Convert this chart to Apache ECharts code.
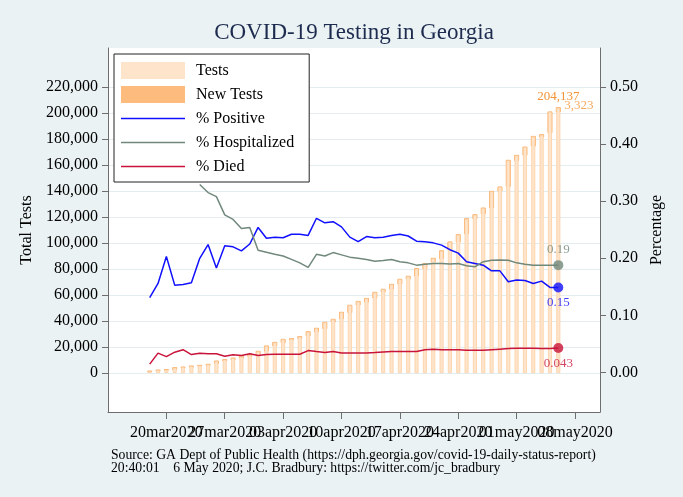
<!DOCTYPE html>
<html>
<head>
<meta charset="utf-8">
<title>COVID-19 Testing in Georgia</title>
<script src="https://cdn.jsdelivr.net/npm/echarts@6/dist/echarts.min.js"></script>
<style>
  html, body { margin: 0; padding: 0; background: #eaf2f3; }
  #chart { width: 683px; height: 497px; }
</style>
</head>
<body>
<div id="chart"></div>
<script>
// daily values, 18 Mar 2020 .. 6 May 2020
const dates = [
  '2020-03-18', '2020-03-19', '2020-03-20', '2020-03-21', '2020-03-22', '2020-03-23', '2020-03-24', '2020-03-25', '2020-03-26', '2020-03-27',
  '2020-03-28', '2020-03-29', '2020-03-30', '2020-03-31', '2020-04-01', '2020-04-02', '2020-04-03', '2020-04-04', '2020-04-05', '2020-04-06',
  '2020-04-07', '2020-04-08', '2020-04-09', '2020-04-10', '2020-04-11', '2020-04-12', '2020-04-13', '2020-04-14', '2020-04-15', '2020-04-16',
  '2020-04-17', '2020-04-18', '2020-04-19', '2020-04-20', '2020-04-21', '2020-04-22', '2020-04-23', '2020-04-24', '2020-04-25', '2020-04-26',
  '2020-04-27', '2020-04-28', '2020-04-29', '2020-04-30', '2020-05-01', '2020-05-02', '2020-05-03', '2020-05-04', '2020-05-05', '2020-05-06'
];
const totalTests = [
  1540, 2300, 2560, 4100, 4600, 5400, 5900, 6700, 9200, 10300,
  11500, 12800, 13850, 16700, 20800, 23600, 25900, 26400, 27950, 31800,
  34400, 39000, 41300, 46700, 52100, 55100, 57400, 62100, 64400, 68200,
  72100, 74400, 80300, 84100, 88200, 94000, 100800, 106400, 118700, 121800,
  126900, 139700, 143100, 163600, 167400, 173800, 182000, 183300, 200800, 204137
];
const newTests = [
  600, 800, 300, 1500, 500, 800, 500, 800, 2000, 1000,
  1200, 1300, 1000, 2600, 3900, 2600, 2500, 1000, 1300, 3300,
  2800, 4900, 2000, 4900, 5600, 2800, 2800, 4400, 2000, 3600,
  3600, 2000, 5600, 3900, 2600, 5900, 6000, 5600, 11500, 3100,
  4400, 12600, 3100, 20000, 3900, 6200, 7400, 1800, 15900, 3323
];
const pctPositive = [
  0.131, 0.156, 0.203, 0.153, 0.154, 0.157, 0.200, 0.224, 0.183, 0.222,
  0.220, 0.213, 0.225, 0.254, 0.235, 0.237, 0.236, 0.242, 0.242, 0.240,
  0.270, 0.262, 0.264, 0.255, 0.237, 0.229, 0.238, 0.236, 0.237, 0.240,
  0.242, 0.239, 0.230, 0.229, 0.227, 0.223, 0.215, 0.209, 0.194, 0.191,
  0.188, 0.178, 0.178, 0.159, 0.162, 0.161, 0.156, 0.160, 0.149, 0.149
];
const pctHospitalized = [
  null, null, null, null, null, null, 0.329, 0.315, 0.308, 0.276,
  0.268, 0.252, 0.254, 0.214, 0.2105, 0.207, 0.204, 0.198, 0.192, 0.184,
  0.207, 0.204, 0.210, 0.206, 0.202, 0.200, 0.198, 0.195, 0.196, 0.198,
  0.194, 0.192, 0.188, 0.1895, 0.191, 0.191, 0.190, 0.191, 0.187, 0.185,
  0.194, 0.1965, 0.197, 0.1965, 0.192, 0.1895, 0.188, 0.188, 0.188, 0.188
];
const pctDied = [
  0.0147, 0.034, 0.028, 0.0357, 0.040, 0.0315, 0.034, 0.033, 0.033, 0.0287,
  0.031, 0.030, 0.033, 0.030, 0.0315, 0.032, 0.032, 0.032, 0.032, 0.0385,
  0.0367, 0.035, 0.0367, 0.0344, 0.0344, 0.0344, 0.0344, 0.035, 0.036, 0.0367,
  0.0367, 0.0367, 0.0367, 0.040, 0.0408, 0.040, 0.040, 0.040, 0.039, 0.039,
  0.039, 0.040, 0.041, 0.042, 0.0425, 0.0425, 0.0425, 0.042, 0.042, 0.043
];

const xTickDates = ['2020-03-20', '2020-03-27', '2020-04-03', '2020-04-10', '2020-04-17', '2020-04-24', '2020-05-01', '2020-05-08'];
const xTickLabels = ['20mar2020', '27mar2020', '03apr2020', '10apr2020', '17apr2020', '24apr2020', '01may2020', '08may2020'];
const leftTicks = [0, 20000, 40000, 60000, 80000, 100000, 120000, 140000, 160000, 180000, 200000, 220000];
const rightTicks = [0, 0.1, 0.2, 0.3, 0.4, 0.5];

const FONT = '"Liberation Serif", "Times New Roman", serif';
const AXIS = '#6e6e6e';
const ORANGE_TXT = '#f39335';

// x axis runs in days after 20 Mar 2020
const dayOf = d => (Date.parse(d) - Date.parse('2020-03-20')) / 86400000;
const xs = dates.map(dayOf);
const xTicks = xTickDates.map(dayOf);
const last = dates.length - 1;

const pair = arr => arr.map((v, i) => [xs[i], v]);
const short = v => String(Number(v.toPrecision(2)));

const testsData = pair(totalTests);
testsData[last] = {
  value: testsData[last],
  label: {
    show: true, position: 'top', distance: 5,
    formatter: p => p.value[1].toLocaleString('en-US'),
    color: ORANGE_TXT, fontFamily: FONT, fontSize: 13
  }
};
// [day, total, new] : new-test segment drawn from total-new up to total
const newData = totalTests.map((t, i) => [xs[i], t, newTests[i]]);

// thin horizontal line legend icon (bbox kept at the full item box)
const LINE_ICON = 'path://M0,0L64,0L64,0.01L0,0.01Z M0,7.75L64,7.75L64,9.25L0,9.25Z M0,16.99L64,16.99L64,17L0,17Z';

// the date labels overlap like in the original, so they are split over two
// stacked bottom axes (alternate ticks) to keep echarts from dropping any
function dateAxis(ticks, showLine) {
  return {
    type: 'value', position: 'bottom', min: -7, max: 52,
    axisLine: { show: showLine, onZero: false, lineStyle: { color: AXIS } },
    axisTick: { show: true, length: 7, customValues: ticks, lineStyle: { color: AXIS } },
    axisLabel: {
      customValues: ticks, margin: 13, showMinLabel: true, showMaxLabel: true,
      formatter: v => xTickLabels[xTicks.indexOf(v)] || '',
      fontFamily: FONT, fontSize: 16, color: '#000'
    },
    splitLine: { show: false }
  };
}

function endDot(arr, color, pos) {
  return {
    type: 'scatter', yAxisIndex: 1, symbol: 'circle', symbolSize: 10, z: 5,
    itemStyle: { color: color },
    data: [[xs[last], arr[last]]],
    label: {
      show: true, position: pos, distance: 4,
      formatter: p => short(p.value[1]),
      color: color, fontFamily: FONT, fontSize: 13
    }
  };
}

const chart = echarts.init(document.getElementById('chart'));
chart.setOption({
  animation: false,
  backgroundColor: '#eaf2f3',
  textStyle: { fontFamily: FONT },
  grid: { left: 108, right: 83, top: 48, bottom: 85, show: true, backgroundColor: '#ffffff', borderWidth: 0 },
  graphic: [
    { type: 'text', x: 354, y: 33, style: { text: 'COVID-19 Testing in Georgia', font: '23px ' + FONT, fill: '#1d2b4f', textAlign: 'center', textVerticalAlign: 'middle' } },
    { type: 'text', x: 111, y: 455, style: { text: 'Source: GA Dept of Public Health (https://dph.georgia.gov/covid-19-daily-status-report)', font: '13.7px ' + FONT, fill: '#000', textVerticalAlign: 'middle' } },
    { type: 'text', x: 111, y: 468, style: { text: '20:40:01    6 May 2020; J.C. Bradbury: https://twitter.com/jc_bradbury', font: '13.7px ' + FONT, fill: '#000', textVerticalAlign: 'middle' } }
  ],
  legend: {
    orient: 'vertical', left: 114, top: 54,
    backgroundColor: '#ffffff', borderColor: '#222', borderWidth: 1,
    padding: [8, 15, 7, 7], itemWidth: 64, itemHeight: 17, itemGap: 7,
    textStyle: { fontFamily: FONT, fontSize: 16, lineHeight: 17, color: '#000', padding: [0, 0, 0, 6] },
    data: [
      { name: 'Tests', icon: 'rect', itemStyle: { borderWidth: 0 } },
      { name: 'New Tests', icon: 'rect', itemStyle: { borderWidth: 0 } },
      { name: '% Positive', icon: LINE_ICON },
      { name: '% Hospitalized', icon: LINE_ICON },
      { name: '% Died', icon: LINE_ICON }
    ]
  },
  xAxis: [
    dateAxis(xTicks.filter((d, i) => i % 2 === 0), true),
    dateAxis(xTicks.filter((d, i) => i % 2 === 1), false)
  ],
  yAxis: [
    {
      type: 'value', position: 'left', min: -30000, max: 250000,
      name: 'Total Tests', nameLocation: 'middle', nameRotate: 90, nameGap: 72,
      nameTextStyle: { fontFamily: FONT, fontSize: 16, color: '#000' },
      axisLine: { show: true, onZero: false, lineStyle: { color: AXIS } },
      axisTick: { show: true, length: 6, customValues: leftTicks, lineStyle: { color: AXIS } },
      axisLabel: {
        customValues: leftTicks, margin: 10,
        formatter: v => v.toLocaleString('en-US'),
        fontFamily: FONT, fontSize: 16, color: '#000'
      },
      splitLine: { show: true, lineStyle: { color: '#e3ecee', width: 1 } }
    },
    {
      type: 'value', position: 'right', min: -0.069, max: 0.568,
      name: 'Percentage', nameLocation: 'middle', nameRotate: 90, nameGap: 47,
      nameTextStyle: { fontFamily: FONT, fontSize: 16, color: '#000' },
      axisLine: { show: true, onZero: false, lineStyle: { color: AXIS } },
      axisTick: { show: true, length: 6, customValues: rightTicks, lineStyle: { color: AXIS } },
      axisLabel: {
        customValues: rightTicks, margin: 10,
        formatter: v => v.toFixed(2),
        fontFamily: FONT, fontSize: 16, color: '#000'
      },
      splitLine: { show: false }
    }
  ],
  series: [
    {
      name: 'Tests', type: 'bar', barWidth: 4,
      itemStyle: { color: '#fee4cb', borderColor: '#fccfa2', borderWidth: 0.8 },
      data: testsData
    },
    {
      name: 'New Tests', type: 'custom',
      itemStyle: { color: '#fdbb7e', borderColor: '#f89d48', borderWidth: 0.8 },
      encode: { x: 0, y: 1 },
      renderItem: (params, api) => {
        const x = api.value(0), top = api.value(1), n = api.value(2);
        const p1 = api.coord([x, top]);
        const p0 = api.coord([x, top - n]);
        return {
          type: 'rect',
          shape: { x: p1[0] - 2, y: p1[1], width: 4, height: p0[1] - p1[1] },
          style: api.style()
        };
      },
      data: newData
    },
    {
      name: 'newLabel', type: 'scatter', symbolSize: 0, silent: true,
      data: [[xs[last], totalTests[last]]],
      label: {
        show: true, position: 'right', distance: 6, offset: [0, -2],
        formatter: () => newTests[last].toLocaleString('en-US'),
        color: ORANGE_TXT, fontFamily: FONT, fontSize: 13
      }
    },
    {
      name: '% Positive', type: 'line', yAxisIndex: 1, symbol: 'none',
      lineStyle: { color: '#1010ff', width: 1.5 }, itemStyle: { color: '#1010ff' },
      data: pair(pctPositive)
    },
    {
      name: '% Hospitalized', type: 'line', yAxisIndex: 1, symbol: 'none',
      lineStyle: { color: '#71887c', width: 1.5 }, itemStyle: { color: '#71887c' },
      data: pair(pctHospitalized)
    },
    {
      name: '% Died', type: 'line', yAxisIndex: 1, symbol: 'none',
      lineStyle: { color: '#c8143a', width: 1.5 }, itemStyle: { color: '#c8143a' },
      data: pair(pctDied)
    },
    endDot(pctHospitalized, '#71887c', 'top'),
    endDot(pctPositive, '#1010ff', 'bottom'),
    endDot(pctDied, '#c8143a', 'bottom')
  ]
});
</script>
</body>
</html>
